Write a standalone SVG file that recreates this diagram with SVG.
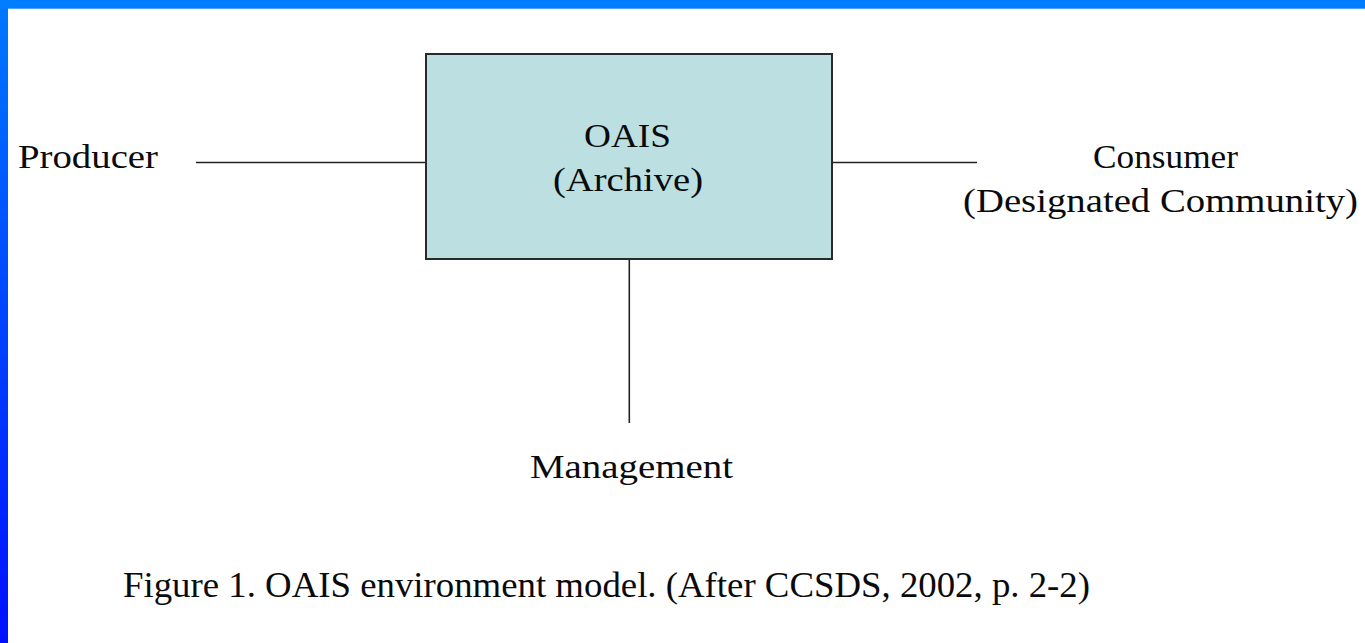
<svg xmlns="http://www.w3.org/2000/svg" width="1365" height="643" viewBox="0 0 1365 643">
  <style>
    .lbl { font-family: "Liberation Serif", "Times New Roman", serif; font-size: 33px; fill: #0a0a0a; }
    .cap { font-size: 35px; }
    .conn { stroke: #222; stroke-width: 1.6; fill: none; }
    .box { fill: #bcdfe2; stroke: #2a2a2a; stroke-width: 2; }
  </style>
  <defs>
    <linearGradient id="leftbar" x1="0" y1="0" x2="0" y2="1">
      <stop offset="0" stop-color="#0078ff"/>
      <stop offset="1" stop-color="#0010ff"/>
    </linearGradient>
  </defs>
  <rect x="0" y="0" width="1365" height="643" fill="#ffffff"/>
  <rect x="0" y="0" width="8" height="643" fill="url(#leftbar)"/>
  <rect x="0" y="0" width="1365" height="8.7" fill="#007cff"/>

  <g id="connectors">
    <line class="conn" x1="196" y1="162.5" x2="426" y2="162.5"/>
    <line class="conn" x1="832" y1="162.5" x2="977" y2="162.5"/>
    <line class="conn" x1="629.3" y1="259" x2="629.3" y2="423"/>
  </g>

  <g id="archive">
    <rect class="box" x="426" y="54" width="406" height="205"/>
    <text class="lbl" x="584" y="147" textLength="87" lengthAdjust="spacingAndGlyphs">OAIS</text>
    <text class="lbl" x="553" y="191" textLength="150" lengthAdjust="spacingAndGlyphs">(Archive)</text>
  </g>

  <g id="producer">
    <text class="lbl" x="18" y="168" textLength="140" lengthAdjust="spacingAndGlyphs">Producer</text>
  </g>

  <g id="consumer">
    <text class="lbl" x="1093" y="168" textLength="145" lengthAdjust="spacingAndGlyphs">Consumer</text>
    <text class="lbl" x="963" y="212" textLength="395" lengthAdjust="spacingAndGlyphs">(Designated Community)</text>
  </g>

  <g id="management">
    <text class="lbl" x="530" y="478" textLength="203" lengthAdjust="spacingAndGlyphs">Management</text>
  </g>

  <g id="caption">
    <text class="lbl cap" x="123" y="597" textLength="967" lengthAdjust="spacingAndGlyphs">Figure 1. OAIS environment model. (After CCSDS, 2002, p. 2-2)</text>
  </g>
</svg>
